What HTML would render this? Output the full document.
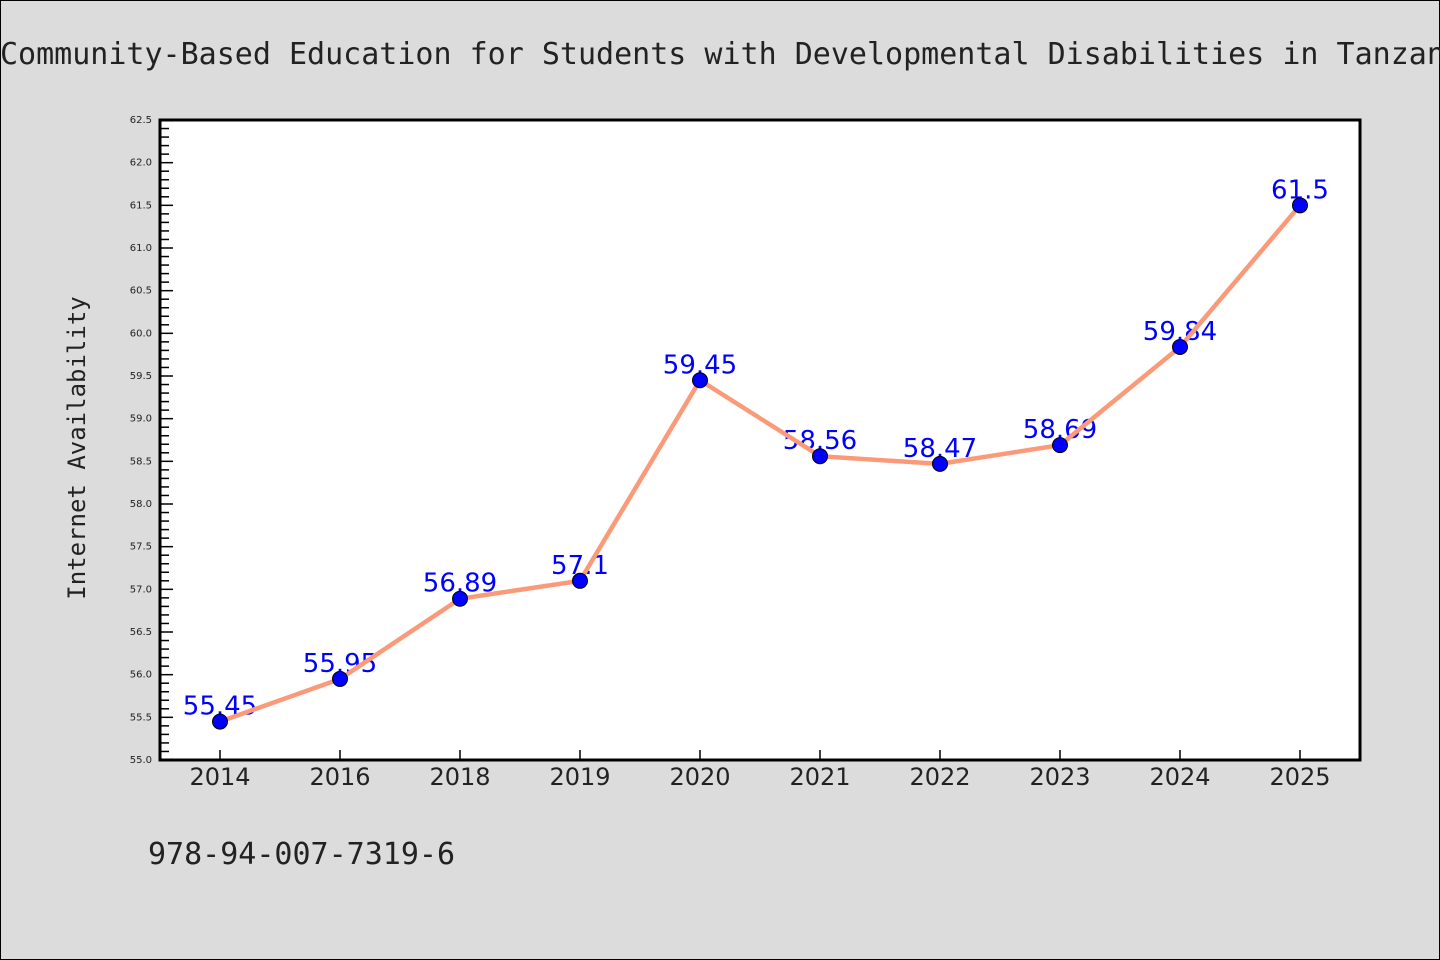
<!DOCTYPE html>
<html><head><meta charset="utf-8"><style>
body{margin:0;background:#dcdcdc;}
svg{display:block;font-family:"DejaVu Sans","WenQuanYi Zen Hei",sans-serif;}
</style></head><body>
<svg width="1440" height="960" xmlns="http://www.w3.org/2000/svg">
<rect x="0.5" y="0.5" width="1439" height="959" fill="#dcdcdc" stroke="#000"/>
<text x="0" y="64" font-size="30" font-family="'DejaVu Sans Mono','Liberation Mono',monospace" fill="#222">Community-Based Education for Students with Developmental Disabilities in Tanzania</text>
<rect x="160" y="120" width="1200" height="640" fill="#fff"/>
<g id="ticks"></g>
<g id="marks"></g>
<rect x="160" y="120" width="1200" height="640" fill="none" stroke="#000" stroke-width="3"/>
<text transform="translate(85,448) rotate(-90)" text-anchor="middle" font-size="24" font-family="'DejaVu Sans Mono','Liberation Mono',monospace" fill="#222">Internet Availability</text>
<text x="148" y="864" font-size="30" font-family="'DejaVu Sans Mono','Liberation Mono',monospace" fill="#222">978-94-007-7319-6</text>
</svg>
<script>
const categories=["2014","2016","2018","2019","2020","2021","2022","2023","2024","2025"];
const values=[55.45,55.95,56.89,57.1,59.45,58.56,58.47,58.69,59.84,61.5];
const valueLabels=["55.45","55.95","56.89","57.1","59.45","58.56","58.47","58.69","59.84","61.5"];
const yTicks=[55.0,55.5,56.0,56.5,57.0,57.5,58.0,58.5,59.0,59.5,60.0,60.5,61.0,61.5,62.0,62.5];
{
const NS="http://www.w3.org/2000/svg";
const yMin=55,yMax=62.5,plotTop=120,plotBot=760,plotLeft=160,plotW=1200;
const ys=v=>plotBot-(v-yMin)/(yMax-yMin)*(plotBot-plotTop);
const xs=i=>plotLeft+plotW/categories.length*(i+0.5);
function mk(t,a,p){const e=document.createElementNS(NS,t);for(const k in a)e.setAttribute(k,a[k]);p.appendChild(e);return e;}
const tg=document.getElementById('ticks'),mg=document.getElementById('marks');
for(let k=0;k<=75;k++){const v=55+k*0.1;const major=k%5===0;
 const l=mk('line',{x1:plotLeft,x2:plotLeft+(major?13:9),y1:ys(v),y2:ys(v),stroke:'#000','stroke-width':1.5},tg);
 
 }
yTicks.forEach(v=>{const t=mk('text',{x:152,y:ys(v)+3,'text-anchor':'end','font-size':10,fill:'#222'},tg);t.textContent=v.toFixed(1);
 
 });
categories.forEach((c,i)=>{const l=mk('line',{x1:xs(i),x2:xs(i),y1:plotBot,y2:plotBot-10,stroke:'#000','stroke-width':1.5},tg);
 
 
 const t=mk('text',{x:xs(i),y:785,'text-anchor':'middle','font-size':24,fill:'#222'},tg);t.textContent=c;
 
 });
values.forEach((v,i)=>{const t=mk('text',{x:xs(i),y:ys(v)-7,'text-anchor':'middle','font-size':26,fill:'#0000ff'},mg);t.textContent=valueLabels[i];
 
 });
const line=mk('polyline',{points:values.map((v,i)=>xs(i)+','+ys(v)).join(' '),fill:'none',stroke:'#fa9a78','stroke-width':4.5},mg);


values.forEach((v,i)=>{const c=mk('circle',{cx:xs(i),cy:ys(v),r:7.5,fill:'#0000ff',stroke:'#000','stroke-width':1},mg);
 
 });
}
</script>
</body></html>
